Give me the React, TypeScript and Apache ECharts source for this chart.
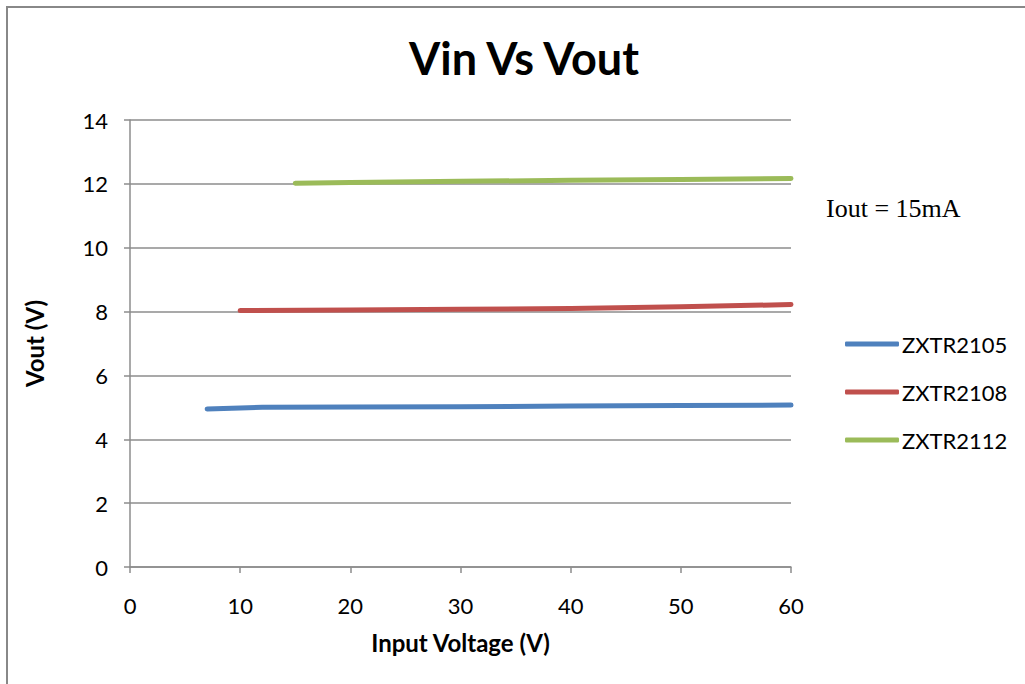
import React, { useEffect, useRef } from "react";
import * as echarts from "echarts";

const seriesNames = ["ZXTR2105", "ZXTR2108", "ZXTR2112"];
const x2105 = [7, 10, 12, 20, 30, 40, 50, 60];
const y2105 = [4.95, 4.98, 5.0, 5.01, 5.02, 5.04, 5.06, 5.07];
const x2108 = [10, 20, 30, 40, 50, 60];
const y2108 = [8.03, 8.05, 8.07, 8.1, 8.15, 8.22];
const x2112 = [15, 20, 30, 40, 50, 60];
const y2112 = [12.02, 12.04, 12.08, 12.11, 12.14, 12.17];
const colors = ["#4F81BD", "#C0504D", "#9BBB59"];

const FONT = "Lato";
const GRAY = "#8c8c8c";

export default function App() {
  const ref = useRef<HTMLDivElement>(null);
  useEffect(() => {
    document.body.style.margin = "0";
    const chart = echarts.init(ref.current!, undefined, { renderer: "svg" });
    const pair = (xs: number[], ys: number[]) => xs.map((x, i) => [x, ys[i]]);
    const datas = [pair(x2105, y2105), pair(x2108, y2108), pair(x2112, y2112)];
    chart.setOption({
      animation: false,
      backgroundColor: "#fff",
      title: {
        text: "Vin Vs Vout",
        left: 404,
        top: 30,
        textStyle: { fontFamily: FONT, fontSize: 45, fontWeight: "bold", color: "#000" },
      },
      grid: { left: 130, right: 234, top: 120, bottom: 117 },
      legend: {
        orient: "vertical",
        left: 840,
        top: 328,
        itemWidth: 54,
        itemHeight: 5,
        itemGap: 26,
        icon: "roundRect",
        data: seriesNames,
        textStyle: { fontFamily: FONT, fontSize: 22, color: "#000", padding: [0, 0, 0, -2] },
      },
      xAxis: {
        type: "value",
        min: 0,
        max: 60,
        interval: 10,
        name: "Input Voltage (V)",
        nameLocation: "middle",
        nameGap: 63,
        nameTextStyle: { fontFamily: FONT, fontSize: 24, fontWeight: "bold", color: "#000" },
        axisLine: { show: true, lineStyle: { color: GRAY, width: 1.5 } },
        axisTick: { show: true, length: 6, lineStyle: { color: GRAY, width: 1.5 } },
        axisLabel: { fontFamily: FONT, fontSize: 22, color: "#000", margin: 27 },
        splitLine: { show: false },
      },
      yAxis: {
        type: "value",
        min: 0,
        max: 14,
        interval: 2,
        name: "Vout (V)",
        nameLocation: "middle",
        nameGap: 84,
        nameTextStyle: { fontFamily: FONT, fontSize: 24, fontWeight: "bold", color: "#000" },
        axisLine: { show: true, lineStyle: { color: GRAY, width: 1.5 } },
        axisTick: { show: true, length: 6, lineStyle: { color: GRAY, width: 1.5 } },
        axisLabel: { fontFamily: FONT, fontSize: 22, color: "#000", margin: 22 },
        splitLine: { show: true, lineStyle: { color: GRAY, width: 1.5 } },
      },
      series: seriesNames.map((n, i) => ({
        name: n,
        type: "line",
        data: datas[i],
        showSymbol: false,
        symbol: "none",
        smooth: false,
        color: colors[i],
        lineStyle: { width: 5, color: colors[i], cap: "round", join: "round" },
      })),
      graphic: [
        {
          type: "rect",
          shape: { x: 7, y: 7, width: 1100, height: 800 },
          style: { fill: "none", stroke: "#888", lineWidth: 2 },
          silent: true,
        },
        {
          type: "text",
          left: 826,
          top: 195,
          style: { text: "Iout = 15mA", fontFamily: "Liberation Serif", fontSize: 26, fill: "#000" },
        },
      ],
    });
    return () => chart.dispose();
  }, []);
  return <div ref={ref} style={{ width: 1025, height: 684 }} />;
}
